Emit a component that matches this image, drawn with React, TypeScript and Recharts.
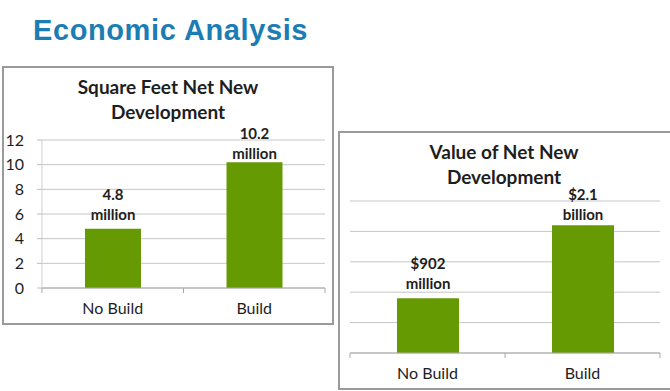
import React from "react";
import { BarChart, Bar, XAxis, YAxis, CartesianGrid, LabelList } from "recharts";

const categories = ["No Build", "Build"];

const sqftValues = [4.8, 10.2];
const sqftLabels = [["4.8", "million"], ["10.2", "million"]];
const sqftTicks = [0, 2, 4, 6, 8, 10, 12];

const valueMillions = [902, 2100];
const valueLabels = [["$902", "million"], ["$2.1", "billion"]];
const valueTicks = [0, 500, 1000, 1500, 2000, 2500];

const PANEL_W = 332;
const PANEL_H = 259;
const GREEN = "#669a02";
const GRID = "#c6c6c6";
const AXIS = "#a9a9a9";
const INK = "#1e1e1e";
const FONT = "Lato, 'Open Sans', sans-serif";

const sqftData = categories.map((name, i) => ({ name, v: sqftValues[i] }));
const valueData = categories.map((name, i) => ({ name, v: valueMillions[i] }));

function CatTick(props: any) {
  const { x, y, payload, index, visibleTicksCount, band } = props;
  const half = band / 2;
  return (
    <g>
      <line x1={x - half} x2={x - half} y1={y} y2={y + 5} stroke={AXIS} />
      {index === visibleTicksCount - 1 && <line x1={x + half} x2={x + half} y1={y} y2={y + 5} stroke={AXIS} />}
      <text x={x} y={y + 20} dy="0.35em" textAnchor="middle" fontSize={16} fill={INK} fontFamily={FONT}>{payload.value}</text>
    </g>
  );
}

const makeLabel = (lines: string[][], plotTop: number) => (props: any) => {
  const { x, y, width, index } = props;
  const cx = x + width / 2;
  const first = Math.max(y - 34, plotTop - 6);
  return (
    <text textAnchor="middle" fontWeight={700} fontSize={15} fill={INK} fontFamily={FONT}>
      <tspan x={cx} y={first} dy="0.35em">{lines[index][0]}</tspan>
      <tspan x={cx} y={first + 20} dy="0.35em">{lines[index][1]}</tspan>
    </text>
  );
};

function Panel({ left, top, boxW, title, children }: any) {
  return (
    <div style={{ position: "absolute", left, top, width: boxW, height: PANEL_H, boxSizing: "border-box", border: "2px solid #9a9a9a", background: "#fff" }}>
      <div style={{ position: "absolute", left: -2, top: -2, width: PANEL_W, height: PANEL_H }}>
        {children}
      </div>
      <div style={{ position: "absolute", left: -2, top: 6, width: PANEL_W, textAlign: "center", fontFamily: FONT, fontWeight: 700, fontSize: 19, lineHeight: "25px", color: INK }}>
        {title.map((t: string) => <div key={t}>{t}</div>)}
      </div>
    </div>
  );
}

export default function App() {
  const lm = { top: 74, right: 9, left: 0, bottom: 7 };
  const lYW = 40;
  const lBand = (PANEL_W - lm.left - lYW - lm.right) / categories.length;
  const rm = { top: 70, right: 10, left: 12, bottom: 7 };
  const rBand = (PANEL_W - rm.left - rm.right) / categories.length;
  return (
    <div style={{ position: "absolute", left: 0, top: 0, width: 670, height: 391, overflow: "hidden", background: "#fff" }}>
      <div style={{ position: "absolute", left: 33, top: 11, fontFamily: "'Liberation Sans', Arial, sans-serif", fontWeight: 700, fontSize: 29, letterSpacing: 0.6, color: "#1b7db3", lineHeight: "38px" }}>
        Economic Analysis
      </div>
      <Panel left={2} top={66} boxW={PANEL_W} title={["Square Feet Net New", "Development"]}>
        <BarChart width={PANEL_W} height={PANEL_H} data={sqftData} margin={lm} barSize={56}>
          <CartesianGrid vertical={false} stroke={GRID} />
          <XAxis dataKey="name" height={30} axisLine={{ stroke: AXIS }} tickLine={false} tickSize={0} tickMargin={0} interval={0}
            tick={<CatTick band={lBand} />} />
          <YAxis width={lYW} domain={[0, 12]} ticks={sqftTicks} interval={0} axisLine={{ stroke: "#cfcfcf" }} tickLine={{ stroke: "#bdbdbd" }}
            tickSize={5} tickMargin={13} tick={{ fontSize: 16, fill: INK, fontFamily: FONT }} />
          <Bar dataKey="v" fill={GREEN} isAnimationActive={false}>
            <LabelList dataKey="v" content={makeLabel(sqftLabels, lm.top)} />
          </Bar>
        </BarChart>
      </Panel>
      <Panel left={338} top={131} boxW={PANEL_W + 10} title={["Value of Net New", "Development"]}>
        <BarChart width={PANEL_W} height={PANEL_H} data={valueData} margin={rm} barSize={62}>
          <CartesianGrid vertical={false} stroke={GRID} />
          <XAxis dataKey="name" height={30} axisLine={{ stroke: AXIS }} tickLine={false} tickSize={0} tickMargin={0} interval={0}
            tick={<CatTick band={rBand} />} />
          <YAxis hide width={0} domain={[0, 2500]} ticks={valueTicks} interval={0} />
          <Bar dataKey="v" fill={GREEN} isAnimationActive={false}>
            <LabelList dataKey="v" content={makeLabel(valueLabels, rm.top)} />
          </Bar>
        </BarChart>
      </Panel>
    </div>
  );
}
